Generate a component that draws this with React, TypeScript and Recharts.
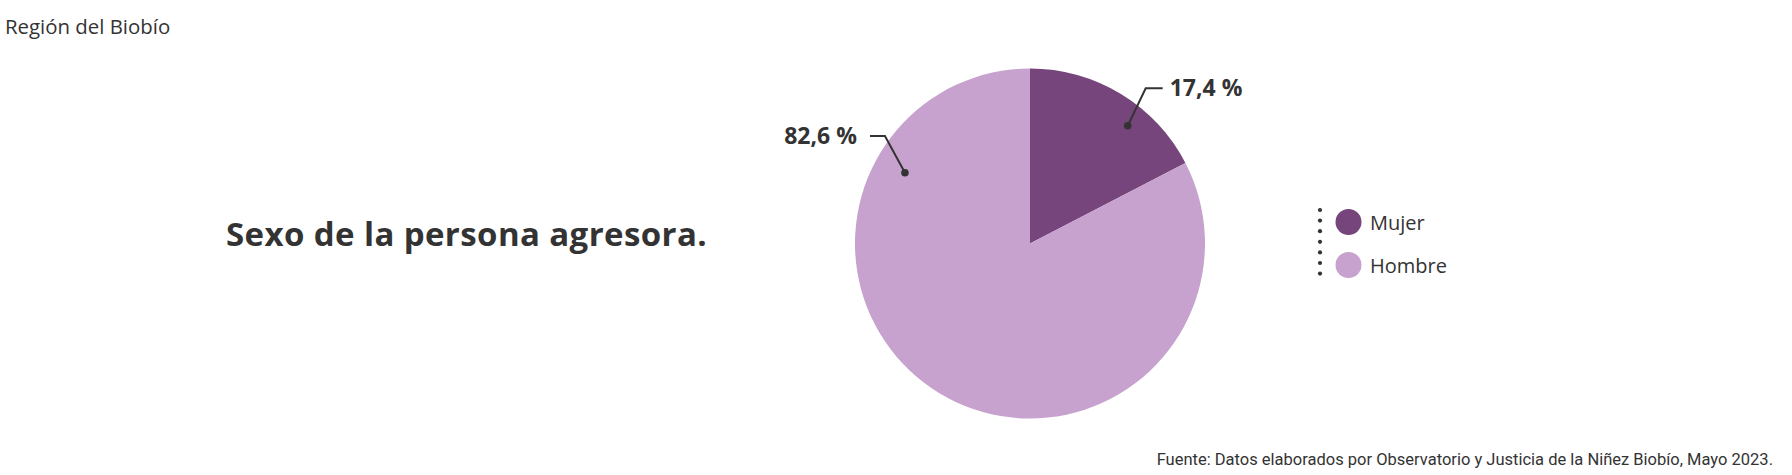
import React from "react";
import { PieChart, Pie, Cell, Legend } from "recharts";

const categories = ["Mujer", "Hombre"];
const values = [17.4, 82.6];
const colors = ["#75457c", "#c7a2ce"];
const chartTitle = "Sexo de la persona agresora.";
const regionTitle = "Región del Biobío";
const sourceNote = "Fuente: Datos elaborados por Observatorio y Justicia de la Niñez Biobío, Mayo 2023.";

const data = categories.map((name, i) => ({ name, value: values[i] }));

// label annotation geometry (angle in degrees, radius as fraction of outer radius)
const LABEL_ANCHORS = [
  { angle: 50.3, r: 0.874, ex: 18, ey: -37.5, tail: 17, gap: 7 },
  { angle: 150.5, r: 0.821, ex: -20, ey: -36.7, tail: -15, gap: 13 },
];

const FONT = "'Open Sans', 'Noto Sans', sans-serif";
const TEXT = "#333333";

const fmt = (v: number) => v.toFixed(1).replace(".", ",") + " %";

const renderLabel = (props: any) => {
  const { cx, cy, outerRadius, index, value } = props;
  const a = LABEL_ANCHORS[index];
  const rad = (a.angle * Math.PI) / 180;
  const x0 = cx + outerRadius * a.r * Math.cos(rad);
  const y0 = cy - outerRadius * a.r * Math.sin(rad);
  const x1 = x0 + a.ex;
  const y1 = y0 + a.ey;
  const x2 = x1 + a.tail;
  const right = a.tail > 0;
  const tx = right ? x2 + a.gap : x2 - a.gap;
  return (
    <g key={"lbl" + index}>
      <polyline points={`${x0},${y0} ${x1},${y1} ${x2},${y1}`} fill="none" stroke={TEXT} strokeWidth={2} />
      <circle cx={x0} cy={y0} r={3.8} fill={TEXT} />
      <text
        x={tx}
        y={y1 + 7.5}
        textAnchor={right ? "start" : "end"}
        fontFamily={FONT}
        fontWeight={700}
        fontSize={23}
        fill={TEXT}
      >
        {fmt(value)}
      </text>
    </g>
  );
};

const renderLegend = (props: any) => {
  const payload = ((props && props.payload) || []).slice();
  payload.sort((p: any, q: any) => categories.indexOf(p.value) - categories.indexOf(q.value));
  const dots = [0, 1, 2, 3, 4, 5, 6];
  return (
    <svg width={200} height={90} style={{ display: "block" }}>
      {dots.map((d) => (
        <circle key={d} cx={10} cy={10 + d * 10.6} r={2.1} fill={TEXT} />
      ))}
      {payload.map((p: any, i: number) => (
        <g key={p.value}>
          <circle cx={38.5} cy={22 + i * 43} r={13} fill={p.color} />
          <text x={60} y={22 + i * 43 + 8} fontFamily={FONT} fontSize={20} fill={TEXT}>
            {p.value}
          </text>
        </g>
      ))}
    </svg>
  );
};

export default function App() {
  return (
    <div style={{ position: "absolute", left: 0, top: 0, width: 1792, height: 475, background: "#fff" }}>
      <PieChart width={1792} height={475} margin={{ top: 0, right: 0, bottom: 0, left: 0 }}>
        <Pie
          data={data}
          dataKey="value"
          nameKey="name"
          cx={1030}
          cy={243.5}
          outerRadius={175}
          startAngle={90}
          endAngle={-270}
          stroke="none"
          label={renderLabel}
          labelLine={false}
          isAnimationActive={false}
        >
          {data.map((d, i) => (
            <Cell key={d.name} fill={colors[i]} />
          ))}
        </Pie>
        <Legend
          content={renderLegend}
          itemSorter={null as any}
          wrapperStyle={{ position: "absolute", left: 1310, top: 200, width: 200, height: 90 }}
        />
      </PieChart>
      <svg width={1792} height={475} style={{ position: "absolute", left: 0, top: 0, pointerEvents: "none" }}>
        <text x={5} y={34.3} fontFamily={FONT} fontSize={20.4} fill={TEXT}>
          {regionTitle}
        </text>
        <text x={226} y={246} fontFamily={FONT} fontSize={33} letterSpacing={0.4} fontWeight={700} fill={TEXT}>
          {chartTitle}
        </text>
        <text x={1773} y={465} textAnchor="end" fontFamily="Roboto, 'Open Sans', sans-serif" fontSize={16.5} fill={TEXT}>
          {sourceNote}
        </text>
      </svg>
    </div>
  );
}
